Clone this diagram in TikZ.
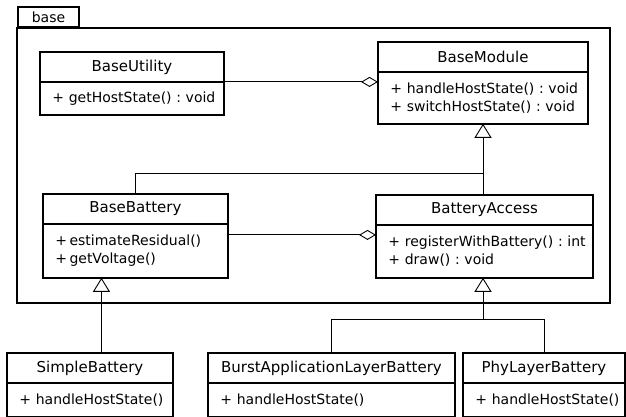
\documentclass[tikz,border=0pt]{standalone}
\usepackage{fontspec}
\setmainfont{DejaVu Sans}
\usetikzlibrary{arrows.meta,positioning}
\frenchspacing
\begin{document}
\begin{tikzpicture}[x=1pt,y=-1pt,
    font=\fontsize{14}{18}\selectfont,
    classtitle/.style={draw,line width=0.9pt,anchor=north west,inner sep=0pt,minimum height=29pt,font=\fontsize{15}{18}\selectfont},
    classbody/.style={draw,line width=0.9pt,inner xsep=12pt,inner ysep=0pt,align=left},
    classframe/.style={line width=2.2pt},
    assoc/.style={line width=0.9pt},
    aggr/.style={line width=0.9pt,-{Diamond[open,length=17pt,width=10pt]}},
    inherit/.style={line width=0.9pt,-{Triangle[open,length=14pt,width=17pt]}}]
            \useasboundingbox (0,0) rectangle (626,416);
            % package
            \draw[classframe] (17,28) rectangle (610,303);
            \node[draw,line width=2pt,anchor=south west,inner sep=0pt,minimum width=61pt,minimum height=20pt] (pkgtab) at (17,28) {base};
            % classes inside the package
            \node[classtitle,minimum width=183pt] (utilT) at (40,52) {BaseUtility};
            \node[classbody,text width=159pt,minimum height=32pt,below right=0pt of utilT.south west] (utilB) {\mbox{+ getHostState() : void}};
            \node[classtitle,minimum width=209pt] (modT) at (378,42) {BaseModule};
            \node[classbody,text width=185pt,minimum height=51pt,below right=0pt of modT.south west] (modB) {\mbox{+ handleHostState() : void}\\\mbox{+ switchHostState() : void}};
            \node[classtitle,minimum width=184pt] (batT) at (43,194) {BaseBattery};
            \node[classbody,text width=160pt,minimum height=53pt,below right=0pt of batT.south west] (batB) {+\,estimateResidual()\\+\,getVoltage()};
            \node[classtitle,minimum width=216pt] (accT) at (376,195) {BatteryAccess};
            \node[classbody,text width=192pt,minimum height=52pt,below right=0pt of accT.south west] (accB) {\mbox{+ registerWithBattery() : int}\\\mbox{+ draw() : void}};
            % classes outside
            \node[classtitle,minimum width=165pt] (simT) at (7,353) {SimpleBattery};
            \node[classbody,text width=141pt,minimum height=33pt,below right=0pt of simT.south west] (simB) {\mbox{+ handleHostState()}};
            \node[classtitle,minimum width=246pt] (burT) at (208,353) {BurstApplicationLayerBattery};
            \node[classbody,text width=222pt,minimum height=33pt,below right=0pt of burT.south west] (burB) {\mbox{+ handleHostState()}};
            \node[classtitle,minimum width=161pt] (phyT) at (463,353) {PhyLayerBattery};
            \node[classbody,text width=137pt,minimum height=33pt,below right=0pt of phyT.south west] (phyB) {\mbox{+ handleHostState()}};
            \draw[classframe] (utilT.north west) rectangle (utilB.south east);
            \draw[classframe] (modT.north west) rectangle (modB.south east);
            \draw[classframe] (batT.north west) rectangle (batB.south east);
            \draw[classframe] (accT.north west) rectangle (accB.south east);
            \draw[classframe] (simT.north west) rectangle (simB.south east);
            \draw[classframe] (burT.north west) rectangle (burB.south east);
            \draw[classframe] (phyT.north west) rectangle (phyB.south east);
            % connectors
            \draw[aggr] (utilB.north east) -- (utilB.north east -| modB.west);
            \draw[aggr] ([yshift=-11pt]batB.north east) coordinate (agg1) -- (agg1 -| accB.west);
            \coordinate (join) at (483,173);
            \draw[inherit] (join |- accT.north) -- (join |- modB.south);
            \draw[assoc] (batT.north) |- (join);
            \draw[inherit] ([xshift=11.5pt]simT.north) coordinate (sim1) -- (sim1 |- batB.south);
            \coordinate (split) at (483,319);
            \draw[assoc] (burT.north) |- (split -| phyT.north) -- (phyT.north);
            \draw[inherit] (split) -- (split |- accB.south);
         \end{tikzpicture}
\end{document}
